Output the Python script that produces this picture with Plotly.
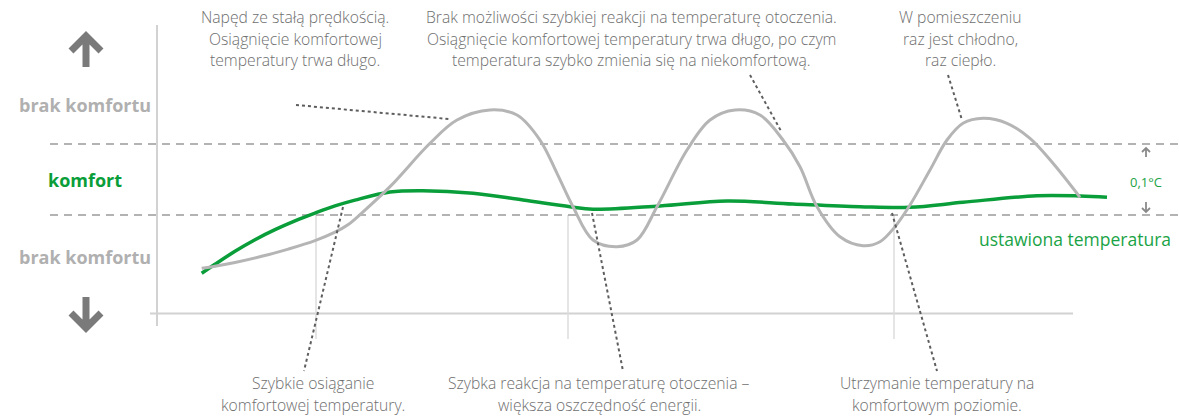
import plotly.graph_objects as go

# ---------------- data (time units, temperature deviation in °C above lower comfort limit)
time_vsd = [4.47, 5.8, 7.8, 9.8, 11.8, 13.8, 15.8, 17.8, 19.8, 23.3, 26.6, 31.6, 36.6, 41.3,
            43.6, 50.3, 57.0, 63.6, 70.3, 75.3, 80.6, 88.0, 92.3, 95.0]
temp_vsd = [-0.0821, -0.0694, -0.0511, -0.0348, -0.0207, -0.0083, 0.0027, 0.0128, 0.0210,
            0.0324, 0.0342, 0.0306, 0.0211, 0.0117, 0.0080, 0.0127, 0.0197, 0.0155, 0.0117,
            0.0108, 0.0179, 0.0272, 0.0268, 0.0249]

time_fixed = [4.47, 5.8, 7.8, 10.47, 13.13, 15.8, 17.8, 19.13, 20.47, 23.3, 27.3, 30.0, 33.3,
              36.0, 38.3, 40.0, 41.6, 43.6, 46.0, 48.0, 50.0, 53.0, 55.3, 57.8, 60.3, 62.6,
              64.3, 66.0, 68.3, 70.6, 72.3, 73.8, 75.3, 77.3, 79.0, 80.6, 82.6, 85.0, 87.3,
              89.6, 92.3]
temp_fixed = [-0.0751, -0.0721, -0.0668, -0.0582, -0.0480, -0.0361, -0.0242, -0.0134, 0.0027,
              0.0399, 0.1010, 0.1338, 0.1479, 0.1408, 0.1056, 0.0587, 0.0117, -0.0352,
              -0.0446, -0.0352, 0.0117, 0.0915, 0.1338, 0.1479, 0.1408, 0.1056, 0.0680,
              0.0117, -0.0306, -0.0432, -0.0376, -0.0165, 0.0141, 0.0634, 0.1056, 0.1292,
              0.1362, 0.1292, 0.1080, 0.0728, 0.0249]

comfort_low = 0.0
comfort_high = 0.1
marker_times = [15.9, 41.1, 73.7]

top_notes = [
    ["Napęd ze stałą prędkością.", "Osiągnięcie komfortowej", "temperatury trwa długo."],
    ["Brak możliwości szybkiej reakcji na temperaturę otoczenia.",
     "Osiągnięcie komfortowej temperatury trwa długo, po czym",
     "temperatura szybko zmienia się na niekomfortową."],
    ["W pomieszczeniu", "raz jest chłodno,", "raz ciepło."],
]
bottom_notes = [
    ["Szybkie osiąganie", "komfortowej temperatury."],
    ["Szybka reakcja na temperaturę otoczenia –", "większa oszczędność energii."],
    ["Utrzymanie temperatury na", "komfortowym poziomie."],
]

# ---------------- layout helpers
W, H = 1179, 417
X0, XS = 157, 10.0     # pixel of t=0, pixels per time unit
Y0, YS = 215, 710.0    # pixel of comfort_low, pixels per °C


def tx(px):
    return (px - X0) / XS


def ty(py):
    return (Y0 - py) / YS


GREEN = "#0a9e3a"
GRAY_LINE = "#b5b5b5"
TEXT_GRAY = "#6e6e6e"
FONT = "Open Sans"

fig = go.Figure()

fig.add_trace(go.Scatter(x=time_vsd, y=temp_vsd, mode="lines",
                         line=dict(color=GREEN, width=3.5, shape="spline", smoothing=1.0),
                         hoverinfo="skip"))
fig.add_trace(go.Scatter(x=time_fixed, y=temp_fixed, mode="lines",
                         line=dict(color=GRAY_LINE, width=3, shape="spline", smoothing=1.0),
                         hoverinfo="skip"))

shapes = []
# axes
shapes.append(dict(type="line", xref="x", yref="y", x0=0, x1=0, y0=ty(25), y1=ty(326),
                   line=dict(color="#d2d2d2", width=2), layer="below"))
shapes.append(dict(type="line", xref="x", yref="y", x0=tx(150), x1=tx(1073), y0=ty(313.5), y1=ty(313.5),
                   line=dict(color="#d2d2d2", width=2), layer="below"))
# thin vertical markers
for t in marker_times:
    shapes.append(dict(type="line", xref="x", yref="y", x0=t, x1=t, y0=comfort_low, y1=ty(339),
                       line=dict(color="#dcdcdc", width=1.5), layer="below"))
# comfort band dashed lines
for v in (comfort_low, comfort_high):
    shapes.append(dict(type="line", xref="x", yref="y", x0=tx(50), x1=tx(1179), y0=v, y1=v,
                       line=dict(color="#9a9a9a", width=1.5, dash="8px,6px"), layer="below"))

# dotted leader lines
leaders = [((296, 105), (449, 119)), ((750, 75), (781, 131)), ((948, 75), (962, 120)),
           ((343, 207), (304, 371)), ((592, 213), (623, 371)), ((892, 213), (937, 371))]
for (xa, ya), (xb, yb) in leaders:
    shapes.append(dict(type="line", xref="x", yref="y", x0=tx(xa), y0=ty(ya), x1=tx(xb), y1=ty(yb),
                       line=dict(color="#5e5e5e", width=2, dash="dot")))


def path(points_list):
    s = ""
    for pts in points_list:
        s += "M " + " L ".join(f"{tx(x)},{ty(y)}" for x, y in pts) + " "
    return s.strip()


# big arrows
shapes.append(dict(type="path", xref="x", yref="y",
                   path=path([[(86, 67), (86, 37)], [(71, 51), (86, 36), (101, 51)]]),
                   line=dict(color="#7a7a7a", width=7)))
shapes.append(dict(type="path", xref="x", yref="y",
                   path=path([[(86, 297), (86, 327)], [(71, 313), (86, 328), (101, 313)]]),
                   line=dict(color="#7a7a7a", width=7)))
# small arrows
shapes.append(dict(type="path", xref="x", yref="y",
                   path=path([[(1146, 157), (1146, 148)], [(1142, 152), (1146, 148), (1150, 152)]]),
                   line=dict(color="#8a8a8a", width=1.8)))
shapes.append(dict(type="path", xref="x", yref="y",
                   path=path([[(1146, 202), (1146, 212)], [(1142, 208), (1146, 212), (1150, 208)]]),
                   line=dict(color="#8a8a8a", width=1.8)))

annotations = []


def txt(x, y, s, size=15.7, color=TEXT_GRAY, weight=300):
    annotations.append(dict(x=tx(x), y=ty(y), xref="x", yref="y", text=s, showarrow=False,
                            xanchor="center", yanchor="middle",
                            font=dict(family=FONT, size=size, color=color, weight=weight)))


top_x = [295, 631, 960]
for cx, lines in zip(top_x, top_notes):
    for i, line in enumerate(lines):
        txt(cx, 17 + i * 21.5, line)

bottom_x = [313, 599, 937]
for cx, lines in zip(bottom_x, bottom_notes):
    for i, line in enumerate(lines):
        txt(cx, 383 + i * 21.5, line)

txt(85, 105, "brak komfortu", size=18, color="#b0b0b0", weight="bold")
txt(85, 180, "komfort", size=18, color=GREEN, weight="bold")
txt(85, 257, "brak komfortu", size=18, color="#b0b0b0", weight="bold")
txt(1075, 239, "ustawiona temperatura", size=17.5, color="#1aa346", weight=400)
txt(1146, 182, "0,1°C", size=13, color="#1aa346", weight=400)

fig.update_layout(
    width=W, height=H, margin=dict(l=0, r=0, t=0, b=0),
    paper_bgcolor="white", plot_bgcolor="white", showlegend=False,
    xaxis=dict(range=[tx(0), tx(W)], visible=False, fixedrange=True),
    yaxis=dict(range=[ty(H), ty(0)], visible=False, fixedrange=True),
    shapes=shapes, annotations=annotations,
)

fig.write_html("out.html", config={"displayModeBar": False},
               post_script="document.body.style.margin='0';document.body.style.overflow='hidden';")
